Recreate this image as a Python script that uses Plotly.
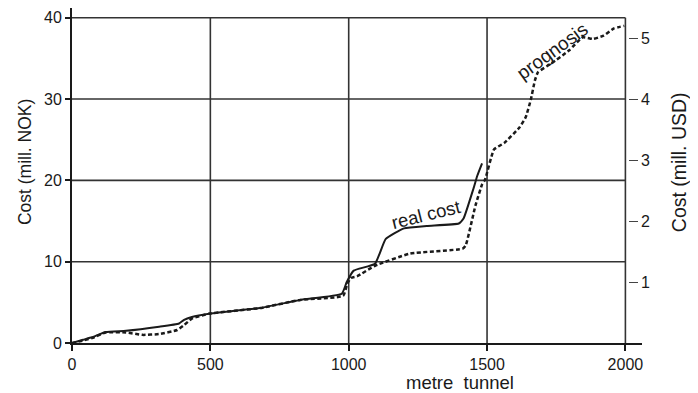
import plotly.graph_objects as go

# metres of tunnel vs cost (mill. NOK)
real_x = [0, 40, 72, 122, 195, 315, 387, 405, 433, 495, 680, 825, 975, 993, 1018, 1095, 1134, 1200, 1282, 1398, 1415, 1451, 1465, 1482]
real_y = [0, 0.4, 0.7, 1.35, 1.5, 2.0, 2.4, 2.85, 3.2, 3.6, 4.3, 5.3, 6.05, 7.5, 8.9, 9.75, 12.8, 14.1, 14.4, 14.7, 15.3, 19.0, 20.6, 22.1]

prog_x = [0, 40, 72, 122, 195, 255, 315, 380, 405, 433, 495, 680, 825, 980, 995, 1008, 1030, 1095, 1222, 1412, 1423, 1458, 1482, 1493, 1525, 1562, 1617, 1640, 1658, 1673, 1684, 1733, 1797, 1846, 1883, 1921, 1959, 1996]
prog_y = [0, 0.3, 0.6, 1.3, 1.3, 1.0, 1.1, 1.6, 2.2, 3.0, 3.6, 4.3, 5.3, 5.8, 7.3, 8.0, 8.2, 9.5, 11.0, 11.6, 12.0, 16.9, 19.5, 20.1, 23.8, 24.6, 26.5, 27.8, 29.9, 32.3, 33.3, 34.4, 36.0, 37.6, 37.4, 37.8, 38.7, 39.0]

x_ticks = [0, 500, 1000, 1500, 2000]
nok_ticks = [0, 10, 20, 30, 40]
usd_ticks = [1, 2, 3, 4, 5]
nok_per_usd = 7.5

Y_TOP = 41.2
X_END = 2060
INK = "#1a1a1a"
FONT = "Liberation Sans, Arial, sans-serif"

fig = go.Figure()
fig.add_trace(go.Scatter(x=prog_x, y=prog_y, mode="lines",
                         line=dict(color=INK, width=2.5, dash="4px,2.5px", shape="spline", smoothing=0.4),
                         showlegend=False))
fig.add_trace(go.Scatter(x=real_x, y=real_y, mode="lines",
                         line=dict(color=INK, width=2.0, shape="spline", smoothing=0.4),
                         showlegend=False))
# invisible trace for the right USD axis
fig.add_trace(go.Scatter(x=[0], y=[0], yaxis="y2", mode="markers",
                         marker=dict(opacity=0), showlegend=False, hoverinfo="skip"))

shapes = []
for xv in x_ticks[1:]:
    shapes.append(dict(type="line", xref="x", yref="y", x0=xv, x1=xv, y0=0, y1=nok_ticks[-1],
                       line=dict(color="#333", width=1.6), layer="below"))
for yv in nok_ticks[1:]:
    shapes.append(dict(type="line", xref="x", yref="y", x0=0, x1=x_ticks[-1], y0=yv, y1=yv,
                       line=dict(color="#333", width=1.6), layer="below"))

fig.update_layout(
    width=690, height=385,
    margin=dict(l=64, r=56, t=0, b=50, autoexpand=False),
    paper_bgcolor="white", plot_bgcolor="white",
    font=dict(family=FONT, size=16, color=INK),
    shapes=shapes,
    xaxis=dict(range=[0, X_END], tickvals=x_ticks, showgrid=False, zeroline=False,
               showline=True, linecolor=INK, linewidth=1.8,
               ticks="outside", ticklen=6, tickwidth=1.5, tickcolor=INK,
               tickfont=dict(size=16, family=FONT, color=INK)),
    yaxis=dict(range=[0, Y_TOP], tickvals=nok_ticks, showgrid=False, zeroline=False,
               showline=True, linecolor=INK, linewidth=1.8,
               ticks="outside", ticklen=5, tickwidth=1.5, tickcolor=INK,
               tickfont=dict(size=16, family=FONT, color=INK)),
    yaxis2=dict(range=[0, Y_TOP / nok_per_usd], tickvals=usd_ticks, overlaying="y",
                side="right", anchor="free", position=0.975,
                showgrid=False, zeroline=False, showline=False,
                ticks="outside", ticklen=9, tickwidth=1.2, tickcolor="#444",
                tickfont=dict(size=16, family=FONT, color=INK)),
    annotations=[
        dict(text="Cost (mill. NOK)", xref="paper", yref="paper", x=-0.0825, y=0.54,
             textangle=-90, showarrow=False, xanchor="center", yanchor="middle",
             font=dict(size=17.5, family=FONT, color=INK)),
        dict(text="Cost (mill. USD)", xref="paper", yref="paper", x=1.065, y=0.54,
             textangle=-90, showarrow=False, xanchor="center", yanchor="middle",
             font=dict(size=19.5, family=FONT, color=INK)),
        dict(text="metre  tunnel", xref="paper", yref="paper", x=0.681, y=-0.119,
             showarrow=False, xanchor="center", yanchor="middle",
             font=dict(size=18.5, family=FONT, color=INK)),
        dict(text="real cost", xref="x", yref="y", x=1280, y=15.8,
             textangle=-14, showarrow=False, xanchor="center", yanchor="middle",
             font=dict(size=18.5, family=FONT, color=INK)),
        dict(text="prognosis", xref="x", yref="y", x=1733, y=35.9,
             textangle=-36, showarrow=False, xanchor="center", yanchor="middle",
             font=dict(size=19, family=FONT, color=INK)),
    ],
)

fig.write_html("out.html")
